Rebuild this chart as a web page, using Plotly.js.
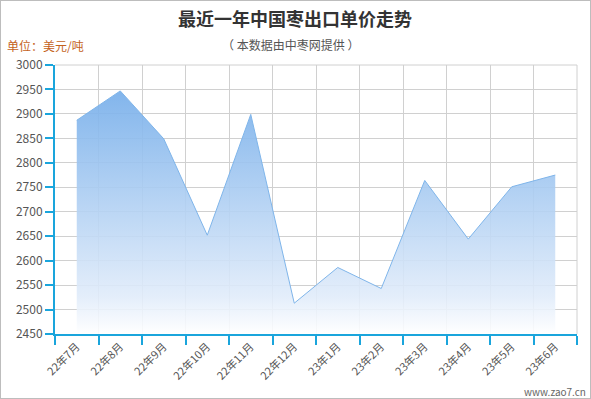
<!DOCTYPE html>
<html><head><meta charset="utf-8">
<script src="https://cdn.plot.ly/plotly-3.0.1.min.js"></script>
<style>
html,body{margin:0;padding:0;background:#fff;}
#chart{width:591px;height:399px;box-sizing:border-box;border:1px solid #bdbdbd;}
</style></head>
<body><div id="chart"></div>
<script>
var months = ['22年7月','22年8月','22年9月','22年10月','22年11月','22年12月','23年1月','23年2月','23年3月','23年4月','23年5月','23年6月'];
var prices = [2887, 2947, 2849, 2652, 2899, 2513, 2586, 2543, 2764, 2644, 2751, 2775];
var yMin = 2450, yMax = 3000;
var baseline = months.map(function(){ return yMin; });

var font = '"Noto Sans CJK SC", "Noto Sans", sans-serif';
var traces = [
  {x: months, y: baseline, type: 'scatter', mode: 'lines', line: {width: 0, color: 'rgba(0,0,0,0)'}, hoverinfo: 'skip', showlegend: false},
  {x: months, y: prices, type: 'scatter', mode: 'lines', fill: 'tonexty',
   line: {color: '#7fb5ea', width: 1},
   fillgradient: {type: 'vertical', start: 2450, stop: 2950,
     colorscale: [[0, 'rgba(255,255,255,0.9)'], [0.15, 'rgba(225,236,250,0.9)'], [1, 'rgba(118,174,234,0.92)']]},
   showlegend: false}
];
var layout = {
  width: 589, height: 397,
  margin: {l: 54, r: 13, t: 64, b: 64},
  paper_bgcolor: '#fff', plot_bgcolor: '#fff',
  font: {family: font, color: '#555', size: 12},
  showlegend: false,
  xaxis: {type: 'category', tickson: 'boundaries', showgrid: true, gridcolor: '#d0d0d0', gridwidth: 1,
    showline: true, linecolor: '#1aa5dc', linewidth: 2, ticks: 'outside', ticklen: 9, tickcolor: '#1aa5dc', tickwidth: 2,
    tickangle: -45, tickfont: {size: 11, color: '#555', family: font}, range: [-0.5, 11.5], zeroline: false, mirror: false},
  yaxis: {range: [yMin, yMax], dtick: 50, showgrid: true, gridcolor: '#d0d0d0', gridwidth: 1,
    showline: true, linecolor: '#1aa5dc', linewidth: 2, ticks: 'outside', ticklen: 8, tickcolor: '#1aa5dc', tickwidth: 2,
    tickfont: {size: 12, color: '#555', family: font}, zeroline: false},
  shapes: [
    {type: 'line', xref: 'paper', yref: 'paper', x0: 1, x1: 1, y0: 0, y1: 1, line: {color: '#d0d0d0', width: 1}},
    {type: 'line', xref: 'paper', yref: 'paper', x0: 0, x1: 1, y0: 1, y1: 1, line: {color: '#d0d0d0', width: 1}}
  ],
  annotations: [
    {text: '<b>最近一年中国枣出口单价走势</b>', xref: 'paper', yref: 'paper', x: 0.4598, y: 1.1747, xanchor: 'center', yanchor: 'middle', showarrow: false, font: {size: 18, color: '#333', family: font}},
    {text: '（ 本数据由中枣网提供 ）', xref: 'paper', yref: 'paper', x: 0.4502, y: 1.078, xanchor: 'center', yanchor: 'middle', showarrow: false, font: {size: 12, color: '#555', family: font}},
    {text: '单位：美元/吨', xref: 'paper', yref: 'paper', x: -0.0958, y: 1.074, xanchor: 'left', yanchor: 'middle', showarrow: false, font: {size: 12, color: '#c4621c', family: font}},
    {text: 'www.zao7.cn', xref: 'paper', yref: 'paper', x: 1.021, y: -0.2156, xanchor: 'right', yanchor: 'middle', showarrow: false, font: {size: 10, color: '#666', family: font}}
  ]
};
Plotly.newPlot('chart', traces, layout, {displayModeBar: false, staticPlot: true});
</script></body></html>
